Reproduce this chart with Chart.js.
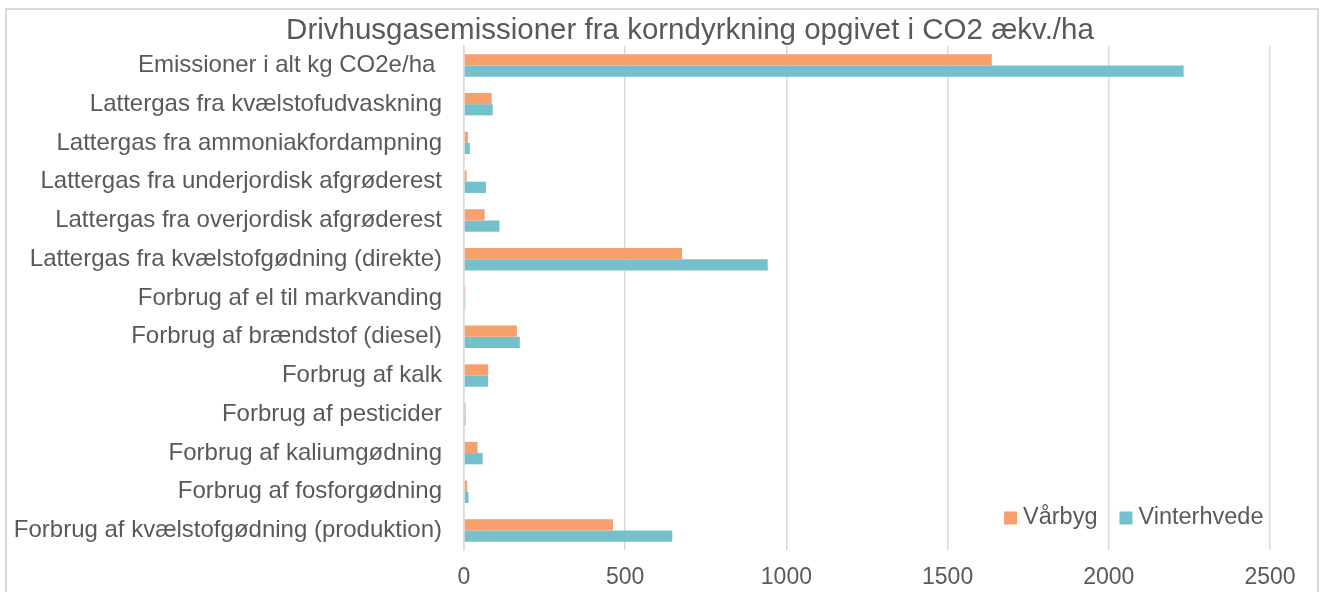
<!DOCTYPE html>
<html lang="da">
<head>
<meta charset="utf-8">
<title>Drivhusgasemissioner fra korndyrkning</title>
<script src="https://cdn.jsdelivr.net/npm/chart.js@4.4.1/dist/chart.umd.min.js"></script>
<style>
  html, body { margin: 0; padding: 0; background: #fff; }
  #wrap { position: relative; width: 1321px; height: 592px; }
</style>
</head>
<body>
<div id="wrap"><canvas id="chart" width="1321" height="592"></canvas></div>
<script>
// ── Data ──────────────────────────────────────────────────────
const titleText = 'Drivhusgasemissioner fra korndyrkning opgivet i CO2 ækv./ha';

const categories = [
  'Emissioner i alt kg CO2e/ha ',
  'Lattergas fra kvælstofudvaskning',
  'Lattergas fra ammoniakfordampning',
  'Lattergas fra underjordisk afgrøderest',
  'Lattergas fra overjordisk afgrøderest',
  'Lattergas fra kvælstofgødning (direkte)',
  'Forbrug af el til markvanding',
  'Forbrug af brændstof (diesel)',
  'Forbrug af kalk',
  'Forbrug af pesticider',
  'Forbrug af kaliumgødning',
  'Forbrug af fosforgødning',
  'Forbrug af kvælstofgødning (produktion)',
];

const varbyg      = [1637, 86, 12, 8, 64, 676, 4, 164, 75, 5, 42, 10, 462];
const vinterhvede = [2232, 89, 18, 68, 110, 942, 4, 173, 75, 5, 58, 14, 646];

const xTicks = [0, 500, 1000, 1500, 2000, 2500];

// ── Stil ──────────────────────────────────────────────────────
const TEXT   = '#595959';
const GRID   = '#d9d9d9';
const ORANGE = '#f5a06d';
const TEAL   = '#74c0cc';
const FONT   = "'Liberation Sans', Arial, sans-serif";

// Ramme, titel og forklaring tegnes som i Excel
const excelFrame = {
  id: 'excelFrame',
  beforeDraw(chart) {
    const c = chart.ctx;
    c.save();
    c.strokeStyle = GRID;
    c.lineWidth = 2;
    c.strokeRect(6, 9, 1312, 620);
    c.restore();
  },
  afterDraw(chart) {
    const c = chart.ctx;
    c.save();
    c.fillStyle = TEXT;
    c.font = `29.5px ${FONT}`;
    c.textAlign = 'center';
    c.textBaseline = 'middle';
    c.fillText(titleText, 690, 31);

    // legend nederst til højre i plotområdet
    c.font = `23.5px ${FONT}`;
    c.textAlign = 'left';
    const items = chart.data.datasets.map(ds => ({ label: ds.label, color: ds.backgroundColor }));
    const y = 518;
    let x = 1004;
    items.forEach(it => {
      c.fillStyle = it.color;
      c.fillRect(x, y - 6.5, 13, 13);
      c.fillStyle = TEXT;
      c.fillText(it.label, x + 19, y);
      x += 19 + c.measureText(it.label).width + 22;
    });
    c.restore();
  },
};

new Chart(document.getElementById('chart'), {
  type: 'bar',
  data: {
    labels: categories,
    datasets: [
      { label: 'Vårbyg',      data: varbyg,      backgroundColor: ORANGE },
      { label: 'Vinterhvede', data: vinterhvede, backgroundColor: TEAL },
    ],
  },
  options: {
    indexAxis: 'y',
    responsive: false,
    animation: false,
    categoryPercentage: 0.58,
    barPercentage: 1.0,
    layout: { padding: { top: 46, right: 51, left: 0, bottom: 0 } },
    plugins: {
      legend: { display: false },
      tooltip: { enabled: false },
      title: { display: false },
    },
    scales: {
      x: {
        min: 0,
        max: 2500,
        afterBuildTicks: s => { s.ticks = xTicks.map(v => ({ value: v })); },
        afterFit: s => { s.height = 42; },
        grid: { color: GRID, lineWidth: 1.5, drawTicks: false },
        border: { display: false },
        ticks: { color: TEXT, font: { family: FONT, size: 23 }, padding: 14, callback: v => String(v) },
      },
      y: {
        afterFit: s => { s.width = 464; },
        grid: { display: false, drawTicks: false },
        border: { display: true, color: GRID, width: 1.5 },
        ticks: { color: TEXT, font: { family: FONT, size: 24 }, padding: 22, autoSkip: false },
      },
    },
  },
  plugins: [excelFrame],
});
</script>
</body>
</html>
